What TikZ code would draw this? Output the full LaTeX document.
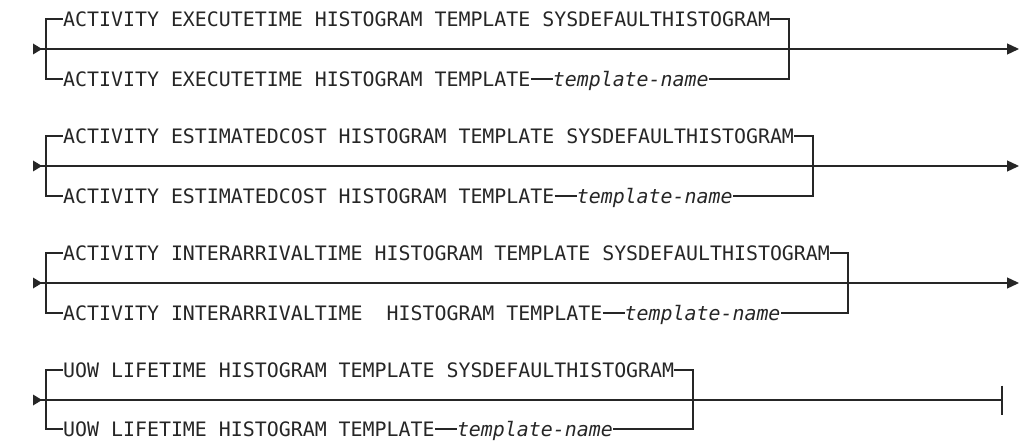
\documentclass[tikz,border=0pt]{standalone}
\usepackage{fontspec}
\newfontfamily\rrfont{DejaVu Sans Mono}
\usetikzlibrary{arrows.meta}
\definecolor{ink}{HTML}{262626}
\tikzset{
  kw/.style={anchor=west, inner sep=0pt, text height=14.5pt, text depth=0pt,
    font=\rrfont\fontsize{19.9}{24}\selectfont, text=ink},
  var/.style={kw, font=\rrfont\itshape\fontsize{19.9}{24}\selectfont},
  rail/.style={draw=ink, line width=1.3pt},
  mainrail/.style={rail, -{Triangle[length=12pt,width=11pt]}},
  endrail/.style={rail, -{Bar[width=29pt,line width=2pt]}},
  startmark/.style={fill=ink},
}
\newcommand{\rrstart}[1]{\fill[startmark] (#1) ++(0,-5.5) -- ++(9,5.5) -- ++(-9,5.5) -- cycle;}
\begin{document}
\begin{tikzpicture}[x=1pt,y=-1pt]
\useasboundingbox (0,0) rectangle (1021,441);

% ---------- block 1 ----------
\coordinate (s1) at (33,49);  \coordinate (e1) at (1019,49);
\coordinate (L1) at (46,49);  \coordinate (R1) at (789,49);
\node[kw] (t1) at (63,19) {ACTIVITY EXECUTETIME HISTOGRAM TEMPLATE SYSDEFAULTHISTOGRAM};
\node[kw] (b1) at (63,79) {ACTIVITY EXECUTETIME HISTOGRAM TEMPLATE};
\node[var] (v1) at ([xshift=22pt]b1.east) {template-name};
\draw[mainrail] (s1) -- (e1);
\draw[rail] (t1.west) -- (t1.west -| L1) -- (b1.west -| L1) -- (b1.west);
\draw[rail] (b1.east) -- (v1.west);
\draw[rail] (t1.east) -- (t1.east -| R1) -- (v1.east -| R1) -- (v1.east);
\rrstart{s1}

% ---------- block 2 ----------
\coordinate (s2) at (33,166);  \coordinate (e2) at (1019,166);
\coordinate (L2) at (46,166);  \coordinate (R2) at (813,166);
\node[kw] (t2) at (63,136) {ACTIVITY ESTIMATEDCOST HISTOGRAM TEMPLATE SYSDEFAULTHISTOGRAM};
\node[kw] (b2) at (63,196) {ACTIVITY ESTIMATEDCOST HISTOGRAM TEMPLATE};
\node[var] (v2) at ([xshift=22pt]b2.east) {template-name};
\draw[mainrail] (s2) -- (e2);
\draw[rail] (t2.west) -- (t2.west -| L2) -- (b2.west -| L2) -- (b2.west);
\draw[rail] (b2.east) -- (v2.west);
\draw[rail] (t2.east) -- (t2.east -| R2) -- (v2.east -| R2) -- (v2.east);
\rrstart{s2}

% ---------- block 3 ----------
\coordinate (s3) at (33,283);  \coordinate (e3) at (1019,283);
\coordinate (L3) at (46,283);  \coordinate (R3) at (848,283);
\node[kw] (t3) at (63,253) {ACTIVITY INTERARRIVALTIME HISTOGRAM TEMPLATE SYSDEFAULTHISTOGRAM};
\node[kw] (b3) at (63,313) {ACTIVITY INTERARRIVALTIME\ \ HISTOGRAM TEMPLATE};
\node[var] (v3) at ([xshift=22pt]b3.east) {template-name};
\draw[mainrail] (s3) -- (e3);
\draw[rail] (t3.west) -- (t3.west -| L3) -- (b3.west -| L3) -- (b3.west);
\draw[rail] (b3.east) -- (v3.west);
\draw[rail] (t3.east) -- (t3.east -| R3) -- (v3.east -| R3) -- (v3.east);
\rrstart{s3}

% ---------- block 4 ----------
\coordinate (s4) at (33,400);  \coordinate (e4) at (1003,400);
\coordinate (L4) at (46,400);  \coordinate (R4) at (693,400);
\node[kw] (t4) at (63,370) {UOW LIFETIME HISTOGRAM TEMPLATE SYSDEFAULTHISTOGRAM};
\node[kw] (b4) at (63,429) {UOW LIFETIME HISTOGRAM TEMPLATE};
\node[var] (v4) at ([xshift=22pt]b4.east) {template-name};
\draw[endrail] (s4) -- (e4);
\draw[rail] (t4.west) -- (t4.west -| L4) -- (b4.west -| L4) -- (b4.west);
\draw[rail] (b4.east) -- (v4.west);
\draw[rail] (t4.east) -- (t4.east -| R4) -- (v4.east -| R4) -- (v4.east);
\rrstart{s4}
\end{tikzpicture}
\end{document}
